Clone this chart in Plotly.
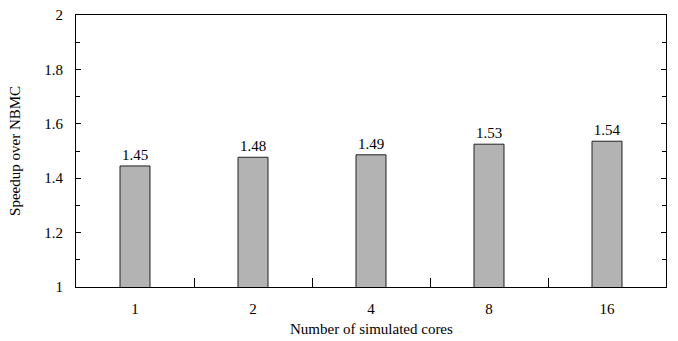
import plotly.graph_objects as go

categories = ["1", "2", "4", "8", "16"]
speedup = [1.445, 1.477, 1.486, 1.525, 1.536]
labels = ["1.45", "1.48", "1.49", "1.53", "1.54"]
y_ticks = [1, 1.2, 1.4, 1.6, 1.8, 2]

FONT = "Liberation Serif, Times New Roman, Times, serif"

fig = go.Figure()
fig.add_trace(go.Bar(
    x=categories, y=speedup, text=labels, textposition="outside",
    textfont=dict(family=FONT, size=15, color="black"),
    marker=dict(color="#b3b3b3", line=dict(color="#222222", width=1)),
    width=0.254, cliponaxis=False,
))

fig.update_layout(
    width=678, height=341,
    margin=dict(l=76, r=12, t=15, b=54),
    plot_bgcolor="white", paper_bgcolor="white",
    font=dict(family=FONT, size=15, color="black"),
    showlegend=False,
    xaxis=dict(
        type="category", showline=True, linecolor="black", linewidth=1, mirror=True,
        ticks="inside", tickson="boundaries", ticklen=9, tickcolor="black",
        showgrid=False, ticklabelstandoff=8, automargin=False,
    ),
    yaxis=dict(
        range=[1, 2], showline=True, linecolor="black", linewidth=1, mirror="ticks",
        ticks="inside", ticklen=5, tickcolor="black", showgrid=False, zeroline=False,
        tickvals=y_ticks, ticktext=[f"{v:g}" for v in y_ticks], ticklabelstandoff=9,
        minor=dict(dtick=0.1, ticks="inside", ticklen=4, tickcolor="black", showgrid=False),
        automargin=False,
    ),
    annotations=[
        dict(text="Number of simulated cores", xref="paper", yref="paper",
             x=0.5, y=-0.155, yanchor="middle", xanchor="center", showarrow=False,
             font=dict(family=FONT, size=15)),
        dict(text="Speedup over NBMC", xref="paper", yref="paper",
             x=-0.1035, y=0.5, xanchor="center", yanchor="middle", textangle=-90,
             showarrow=False, font=dict(family=FONT, size=15)),
    ],
)

fig.write_html("out.html")
